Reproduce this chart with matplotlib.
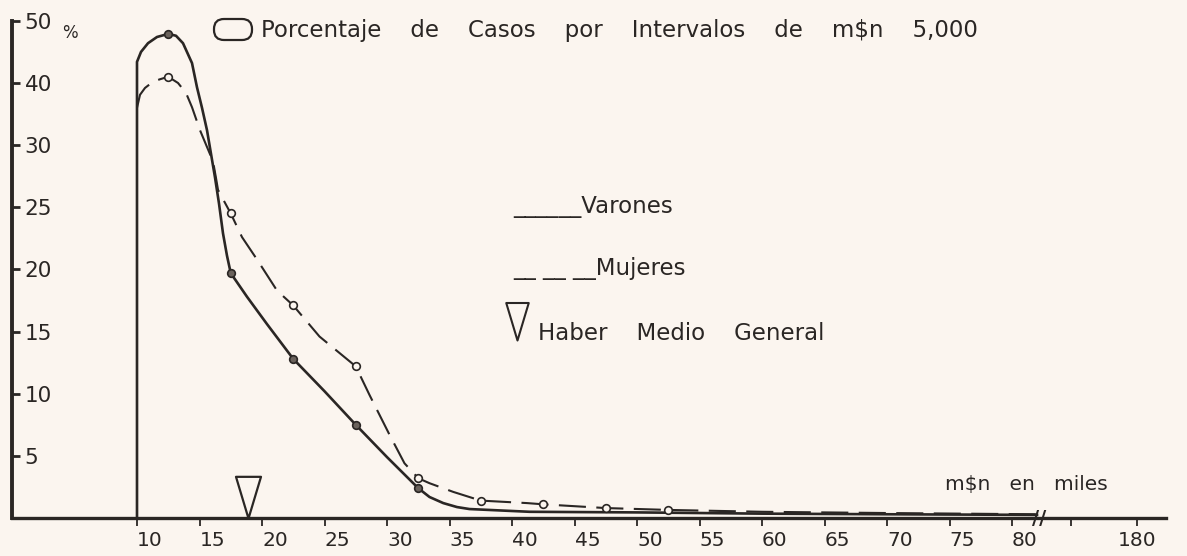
import numpy as np
import matplotlib.pyplot as plt
from matplotlib.path import Path
from matplotlib.patches import FancyBboxPatch

# puntos medios de los intervalos de m$n 5.000 (en miles)
marcas_x = [12.5, 17.5, 22.5, 27.5, 32.5, 37.5, 42.5, 47.5, 52.5]
varones_marcas = [47.9, 19.7, 12.8, 7.5, 2.4]
mujeres_marcas = [41.0, 24.5, 17.1, 12.2, 3.2, 1.4, 1.1, 0.8, 0.65]

# trazado de las curvas (% de casos)
varones_x = [10, 10, 10.32, 10.88, 11.6, 12.5, 13.12, 13.68, 14.4, 14.8, 15.2,
             15.6, 15.92, 16.24, 16.56, 16.88, 17.2, 17.5, 18.8, 20.4,
             22.5, 25.0, 27.5, 30.0, 32.5, 33.4, 34.5, 35.6, 36.6,
             41.4, 50, 60, 70, 82]
varones_y = [0, 43.4, 45.0, 46.4, 47.4, 47.9, 47.6, 46.4, 43.2, 39.3, 36.0,
             32.4, 29.3, 27.4, 25.3, 22.9, 21.1, 19.7, 17.8, 15.6,
             12.8, 10.2, 7.5, 4.9, 2.4, 1.69, 1.2, 0.88, 0.72,
             0.5, 0.45, 0.35, 0.3, 0.25]
mujeres_x = [10, 10.24, 10.64, 11.28, 11.84, 12.5, 13.28, 13.92, 14.4, 15.04,
             15.6, 16.08, 16.32, 16.48, 17.5, 18.4, 19.6, 21.2, 22.5, 24.6,
             27.5, 28.6, 30.2, 31.4, 32.5, 33.4, 35.3, 37.5, 41.2, 42.5, 47.5,
             52.5, 60, 70, 82]
mujeres_y = [36.0, 38.1, 39.2, 40.2, 40.6, 41.0, 40.0, 38.4, 36.1, 32.4,
             29.85, 28.7, 27.35, 26.4, 24.5, 22.6, 20.8, 18.3, 17.1, 14.6,
             12.2, 9.9, 6.7, 4.4, 3.2, 2.8, 2.1, 1.4, 1.2, 1.1, 0.8,
             0.65, 0.5, 0.4, 0.3]

haber_medio = 18.9

x_ticks = [10, 15, 20, 25, 30, 35, 40, 45, 50, 55, 60, 65, 70, 75, 80, 180]
y_ticks = [5, 10, 15, 20, 25, 30, 40, 50]

papel = '#fbf5ef'
tinta = '#2a2624'

plt.rcParams['font.family'] = ['DejaVu Sans']


# eje x cortado despues de 80, eje y comprimido por encima de 30
def fx(x):
    x = np.asarray(x, dtype=float)
    return np.where(x <= 82, x, 82 + (x - 82) * 8 / 98)


def fx_inv(p):
    p = np.asarray(p, dtype=float)
    return np.where(p <= 82, p, 82 + (p - 82) * 98 / 8)


def fy(v):
    v = np.asarray(v, dtype=float)
    return np.where(v <= 30, v, 30 + (v - 30) / 2)


def fy_inv(f):
    f = np.asarray(f, dtype=float)
    return np.where(f <= 30, f, 30 + (f - 30) * 2)


fig = plt.figure(figsize=(11.87, 5.56), dpi=100, facecolor=papel)
ax = fig.add_axes([12 / 1187, 38 / 556, 1162.5 / 1187, 509.6 / 556])
ax.set_facecolor(papel)
ax.set_xscale('function', functions=(fx, fx_inv))
ax.set_yscale('function', functions=(fy, fy_inv))
ax.set_xlim(0, 216.75)
ax.set_ylim(0, 52)

ax.plot(varones_x, varones_y, color=tinta, lw=1.9, solid_joinstyle='round', zorder=3)
ax.plot(mujeres_x, mujeres_y, color=tinta, lw=1.5, dashes=(13, 5), zorder=3)
ax.plot(marcas_x[:len(varones_marcas)], varones_marcas, 'o', ms=5.5,
        mfc='#6a625c', mec=tinta, mew=1.2, zorder=4)
ax.plot(marcas_x, mujeres_marcas, 'o', ms=5.5, mfc=papel, mec=tinta,
        mew=1.2, zorder=4)

# triangulo del haber medio, con el vertice sobre el eje
tri = Path([(-0.3, 1), (0.3, 1), (0, 0), (-0.3, 1)],
           [Path.MOVETO, Path.LINETO, Path.LINETO, Path.CLOSEPOLY])
ax.plot([haber_medio], [0], marker=tri, ms=60, mfc='none', mec=tinta,
        mew=1.6, clip_on=False, zorder=5)

for s in ['top', 'right']:
    ax.spines[s].set_visible(False)
ax.spines['left'].set_linewidth(2.8)
ax.spines['bottom'].set_linewidth(2.4)
ax.spines['left'].set_color(tinta)
ax.spines['bottom'].set_color(tinta)
ax.spines['left'].set_bounds(0, 50)
ax.spines['bottom'].set_bounds(0, 208)

ax.set_yticks(y_ticks)
ax.set_yticklabels([str(v) for v in y_ticks])
ax.tick_params(axis='y', direction='in', length=6, width=2, color=tinta,
               pad=-9, labelsize=15.5, labelcolor=tinta)
for t in ax.yaxis.get_major_ticks():
    t.label1.set_horizontalalignment('left')

ax.set_xticks(x_ticks)
ax.set_xticklabels([str(v) for v in x_ticks])
ax.set_xticks([115], minor=True)
ax.tick_params(axis='x', which='both', direction='out', length=6, width=1.3,
               color=tinta, pad=3, labelsize=14.5, labelcolor=tinta)
for t in ax.xaxis.get_major_ticks():
    t.label1.set_horizontalalignment('left')
ax.xaxis.get_major_ticks()[-1].label1.set_horizontalalignment('center')

# corte del eje x
ax.text(84.5, 0, '//', ha='center', va='center', fontsize=14, color=tinta,
        fontweight='bold', zorder=6)
ax.text(4.6, 48.0, '%', ha='center', va='center', fontsize=12, color=tinta)
ax.text(74.6, 1.9, 'm\\$n   en   miles', ha='left', va='bottom', fontsize=14.5,
        color=tinta)

# leyenda
H = 556
fig.patches.append(FancyBboxPatch((2.14, (H - 40) / 100), 0.38, 0.21,
                                  boxstyle='round,pad=0,rounding_size=0.1',
                                  transform=fig.dpi_scale_trans, fc='none',
                                  ec=tinta, lw=1.6))
fig.text(261 / 1187, 1 - 30 / H,
         'Porcentaje    de    Casos    por    Intervalos    de    m\\$n    5,000',
         ha='left', va='center', fontsize=16.5, color=tinta)
fig.text(513 / 1187, 1 - 213 / H, '______Varones', ha='left', va='baseline',
         fontsize=16.5, color=tinta)
fig.text(513 / 1187, 1 - 275 / H, '__ __ __Mujeres', ha='left', va='baseline',
         fontsize=16.5, color=tinta)
ax.plot([517 / 1187], [1 - 340 / H], marker=tri, ms=54, mfc='none', mec=tinta,
        mew=1.5, transform=fig.transFigure, clip_on=False)
fig.text(538 / 1187, 1 - 340 / H, 'Haber    Medio    General', ha='left',
         va='baseline', fontsize=16.5, color=tinta)

fig.savefig('out.png', dpi=100, facecolor=papel)
